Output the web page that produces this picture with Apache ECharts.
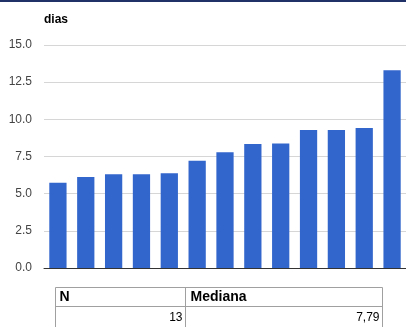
<!DOCTYPE html>
<html>
<head>
<meta charset="utf-8">
<style>
  html, body { margin: 0; padding: 0; background: #fff; }
  #chart { width: 406px; height: 327px; }
</style>
<script src="https://cdn.jsdelivr.net/npm/echarts@6/dist/echarts.min.js"></script>
</head>
<body>
<div id="chart"></div>
<script>
// Days per unit, sorted ascending
const categories = ['1', '2', '3', '4', '5', '6', '7', '8', '9', '10', '11', '12', '13'];
const dias = [5.74, 6.12, 6.30, 6.30, 6.37, 7.22, 7.79, 8.34, 8.38, 9.28, 9.28, 9.41, 13.3];
const yTicks = [0, 2.5, 5, 7.5, 10, 12.5, 15];

// Summary table
const tableHeader = ['N', 'Mediana'];
const tableRow = ['13', '7,79'];

const FONT = 'Arial, "Liberation Sans", sans-serif';

const chart = echarts.init(document.getElementById('chart'), null, { renderer: 'canvas' });

const tx0 = 55.5, tx1 = 185.5, tx2 = 382.5;
const ty0 = 287.5, ty1 = 306.5, ty2 = 330;

chart.setOption({
  animation: false,
  grid: { left: 44, right: -3, top: 45, bottom: 59, containLabel: false },
  xAxis: {
    type: 'category',
    data: categories,
    axisLine: { show: true, lineStyle: { color: '#333', width: 1 } },
    axisTick: { show: false },
    axisLabel: { show: false }
  },
  yAxis: {
    type: 'value',
    min: yTicks[0],
    max: yTicks[yTicks.length - 1],
    interval: 2.5,
    axisLine: { show: false },
    axisTick: { show: false },
    splitLine: { lineStyle: { color: '#d6d6d6', width: 1 } },
    axisLabel: {
      color: '#444',
      fontFamily: FONT,
      fontSize: 12,
      margin: 12,
      formatter: v => v.toFixed(1)
    }
  },
  series: [{
    type: 'bar',
    data: dias,
    barWidth: '62%',
    itemStyle: { color: '#3366cc' }
  }],
  graphic: [
    // top rule
    { type: 'rect', left: 0, top: 0, shape: { width: 406, height: 2 }, style: { fill: '#1f3167' } },
    // axis unit
    { type: 'text', left: 44, top: 14, style: { text: 'dias', font: 'bold 12px ' + FONT, fill: '#000' } },
    // table borders and cells
    { type: 'group', children: [
      { type: 'rect', shape: { x: tx0, y: ty0, width: tx2 - tx0, height: ty2 - ty0 }, style: { fill: '#fff', stroke: '#a0a0a0', lineWidth: 1 } },
      { type: 'line', shape: { x1: tx0, y1: ty1, x2: tx2, y2: ty1 }, style: { stroke: '#a0a0a0', lineWidth: 1 } },
      { type: 'line', shape: { x1: tx1, y1: ty0, x2: tx1, y2: ty2 }, style: { stroke: '#a0a0a0', lineWidth: 1 } },
      { type: 'text', x: tx0 + 4, y: (ty0 + ty1) / 2 + 0.5, style: { text: tableHeader[0], font: 'bold 14px ' + FONT, fill: '#000', verticalAlign: 'middle', align: 'left' } },
      { type: 'text', x: tx1 + 5, y: (ty0 + ty1) / 2 + 0.5, style: { text: tableHeader[1], font: 'bold 14px ' + FONT, fill: '#000', verticalAlign: 'middle', align: 'left' } },
      { type: 'text', x: tx1 - 3, y: 317.5, style: { text: tableRow[0], font: '12px ' + FONT, fill: '#000', verticalAlign: 'middle', align: 'right' } },
      { type: 'text', x: tx2 - 3, y: 317.5, style: { text: tableRow[1], font: '12px ' + FONT, fill: '#000', verticalAlign: 'middle', align: 'right' } }
    ]}
  ]
});
</script>
</body>
</html>
